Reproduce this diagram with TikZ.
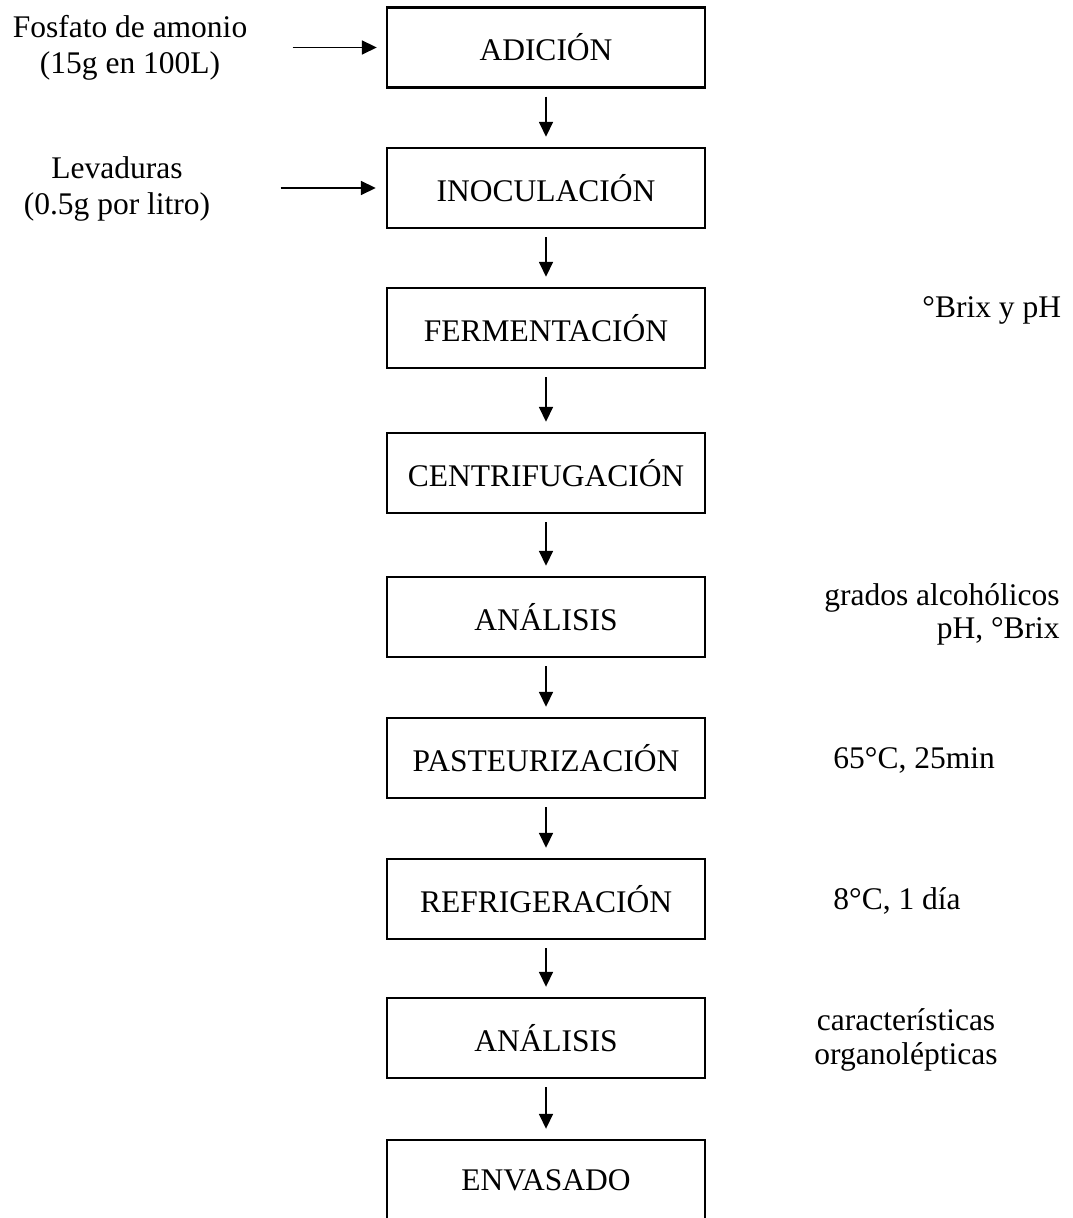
\documentclass[tikz,border=0pt]{standalone}
\usepackage{fontspec}
\setmainfont{Liberation Serif}
\usetikzlibrary{arrows.meta}

\tikzset{
  etapa/.style={draw, line width=1.2pt, minimum width=159pt, minimum height=40pt, inner sep=0pt},
  flecha/.style={-{Triangle[length=7.5pt,width=7pt]}, line width=0.85pt},
  paso/.style={flecha, shorten <=4pt, shorten >=5pt},
  nota/.style={inner sep=0pt},
}

\begin{document}
\begin{tikzpicture}[x=0.5pt,y=0.5pt,yscale=-1,xscale=1,font=\fontsize{15.75}{18}\selectfont]
\clip (0,0) rectangle (1072,1218);
% Etapas
\draw (546,47.5) node [etapa] (adic) {ADICIÓN};
\draw (546,188) node [etapa] (inoc) {INOCULACIÓN};
\draw (546,328) node [etapa] (ferm) {FERMENTACIÓN};
\draw (546,473) node [etapa] (cent) {CENTRIFUGACIÓN};
\draw (546,617) node [etapa] (anaa) {ANÁLISIS};
\draw (546,758) node [etapa] (past) {PASTEURIZACIÓN};
\draw (546,899) node [etapa] (refr) {REFRIGERACIÓN};
\draw (546,1038) node [etapa] (anab) {ANÁLISIS};
\draw (546,1180) node [etapa] (enva) {ENVASADO};
% Text Node
\draw (130,47.5) node [nota, align=center] (fosf) {Fosfato de amonio\\(15g en 100L)};
% Text Node
\draw (117,189) node [nota, align=center] (leva) {Levaduras\\(0.5g por litro)};
% Text Node
\draw (922,310) node [nota, anchor=west] (brix) {°Brix y pH};
% Text Node
\draw (1060,614) node [nota, anchor=east, align=right] (grad) {grados alcohólicos\\[-1.5pt]pH, °Brix};
% Text Node
\draw (833,760) node [nota, anchor=west] (temp) {65°C, 25min};
% Text Node
\draw (833,901) node [nota, anchor=west] (frio) {8°C, 1 día};
% Text Node
\draw (906,1040) node [nota, align=center] (orga) {características\\[-1pt]organolépticas};
% Entradas
\draw[flecha, shorten <=22.5pt, shorten >=4.5pt] (fosf.east |- adic) -- (adic);
\draw[flecha, shorten <=35pt, shorten >=5pt] (leva.east |- inoc) -- (inoc);
% Flujo
\draw[paso] (adic) -- (inoc);
\draw[paso] (inoc) -- (ferm);
\draw[paso] (ferm) -- (cent);
\draw[paso] (cent) -- (anaa);
\draw[paso] (anaa) -- (past);
\draw[paso] (past) -- (refr);
\draw[paso] (refr) -- (anab);
\draw[paso] (anab) -- (enva);
\end{tikzpicture}
\end{document}
